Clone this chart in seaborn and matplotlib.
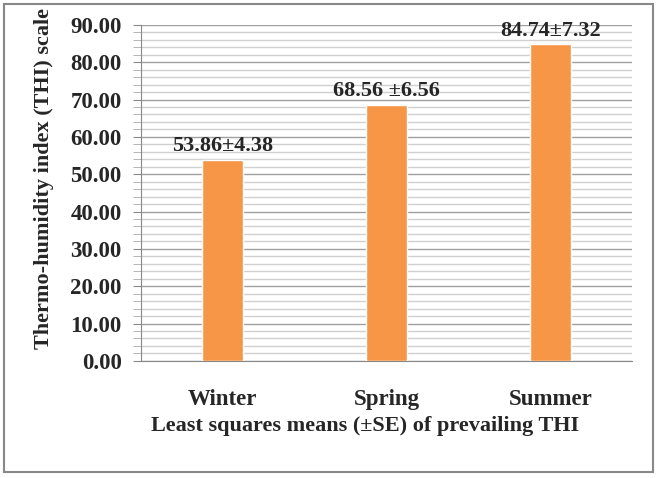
import matplotlib
matplotlib.use("Agg")
import matplotlib.pyplot as plt
import seaborn as sns
import pandas as pd
from matplotlib.ticker import MultipleLocator, FormatStrFormatter
from matplotlib.patches import Rectangle

seasons = ["Winter", "Spring", "Summer"]
means = [53.86, 68.56, 84.74]
labels = ["53.86\u00b14.38", "68.56 \u00b16.56", "84.74\u00b17.32"]

df = pd.DataFrame({"season": seasons, "thi": means})

sns.set_style("white")
plt.rcParams["font.family"] = ["Liberation Serif", "DejaVu Serif"]
plt.rcParams["font.weight"] = "bold"

fig = plt.figure(figsize=(6.57, 4.78), dpi=100)
ax = fig.add_axes([0.2146, 0.245, 0.7474, 0.703])

sns.barplot(data=df, x="season", y="thi", color="#F79646", width=0.25,
            saturation=1, ax=ax, zorder=3)

ax.set_ylim(0, 90)
ax.set_xlim(-0.5, 2.5)
ax.yaxis.set_major_locator(MultipleLocator(10))
ax.yaxis.set_minor_locator(MultipleLocator(2))
ax.yaxis.set_major_formatter(FormatStrFormatter("%.2f"))
ax.grid(axis="y", which="major", color="#a0a0a0", linewidth=1.0, zorder=0)
ax.grid(axis="y", which="minor", color="#d0d0d0", linewidth=1.0, zorder=0)
ax.set_axisbelow(True)

for s in ["top", "right"]:
    ax.spines[s].set_visible(False)
ax.spines["left"].set_color("#888888")
ax.spines["bottom"].set_color("#888888")
ax.tick_params(axis="y", which="major", length=6, color="#888888", left=True,
               labelsize=16.5, pad=8)
ax.tick_params(axis="y", which="minor", length=6, color="#aaaaaa", left=True)
ax.tick_params(axis="x", length=0, labelsize=16.5, pad=20)
for t in ax.get_xticklabels() + ax.get_yticklabels():
    t.set_fontweight("bold")

for i, (v, lab) in enumerate(zip(means, labels)):
    ax.text(i, v + 1.0, lab, ha="center", va="bottom", fontsize=16,
            fontweight="bold", zorder=4)

ax.set_xlabel("Least squares means (\u00b1SE) of prevailing THI", fontsize=16,
              fontweight="bold")
ax.set_ylabel("Thermo-humidity index (THI) scale", fontsize=16,
              fontweight="bold")
ax.xaxis.set_label_coords(0.456, -0.165)
ax.yaxis.set_label_coords(-0.178, 0.542)

fig.patches.append(Rectangle((0.006, 0.012), 0.988, 0.98, transform=fig.transFigure,
                             fill=False, edgecolor="#888888", linewidth=1.5))

fig.savefig("out.png", dpi=100)
